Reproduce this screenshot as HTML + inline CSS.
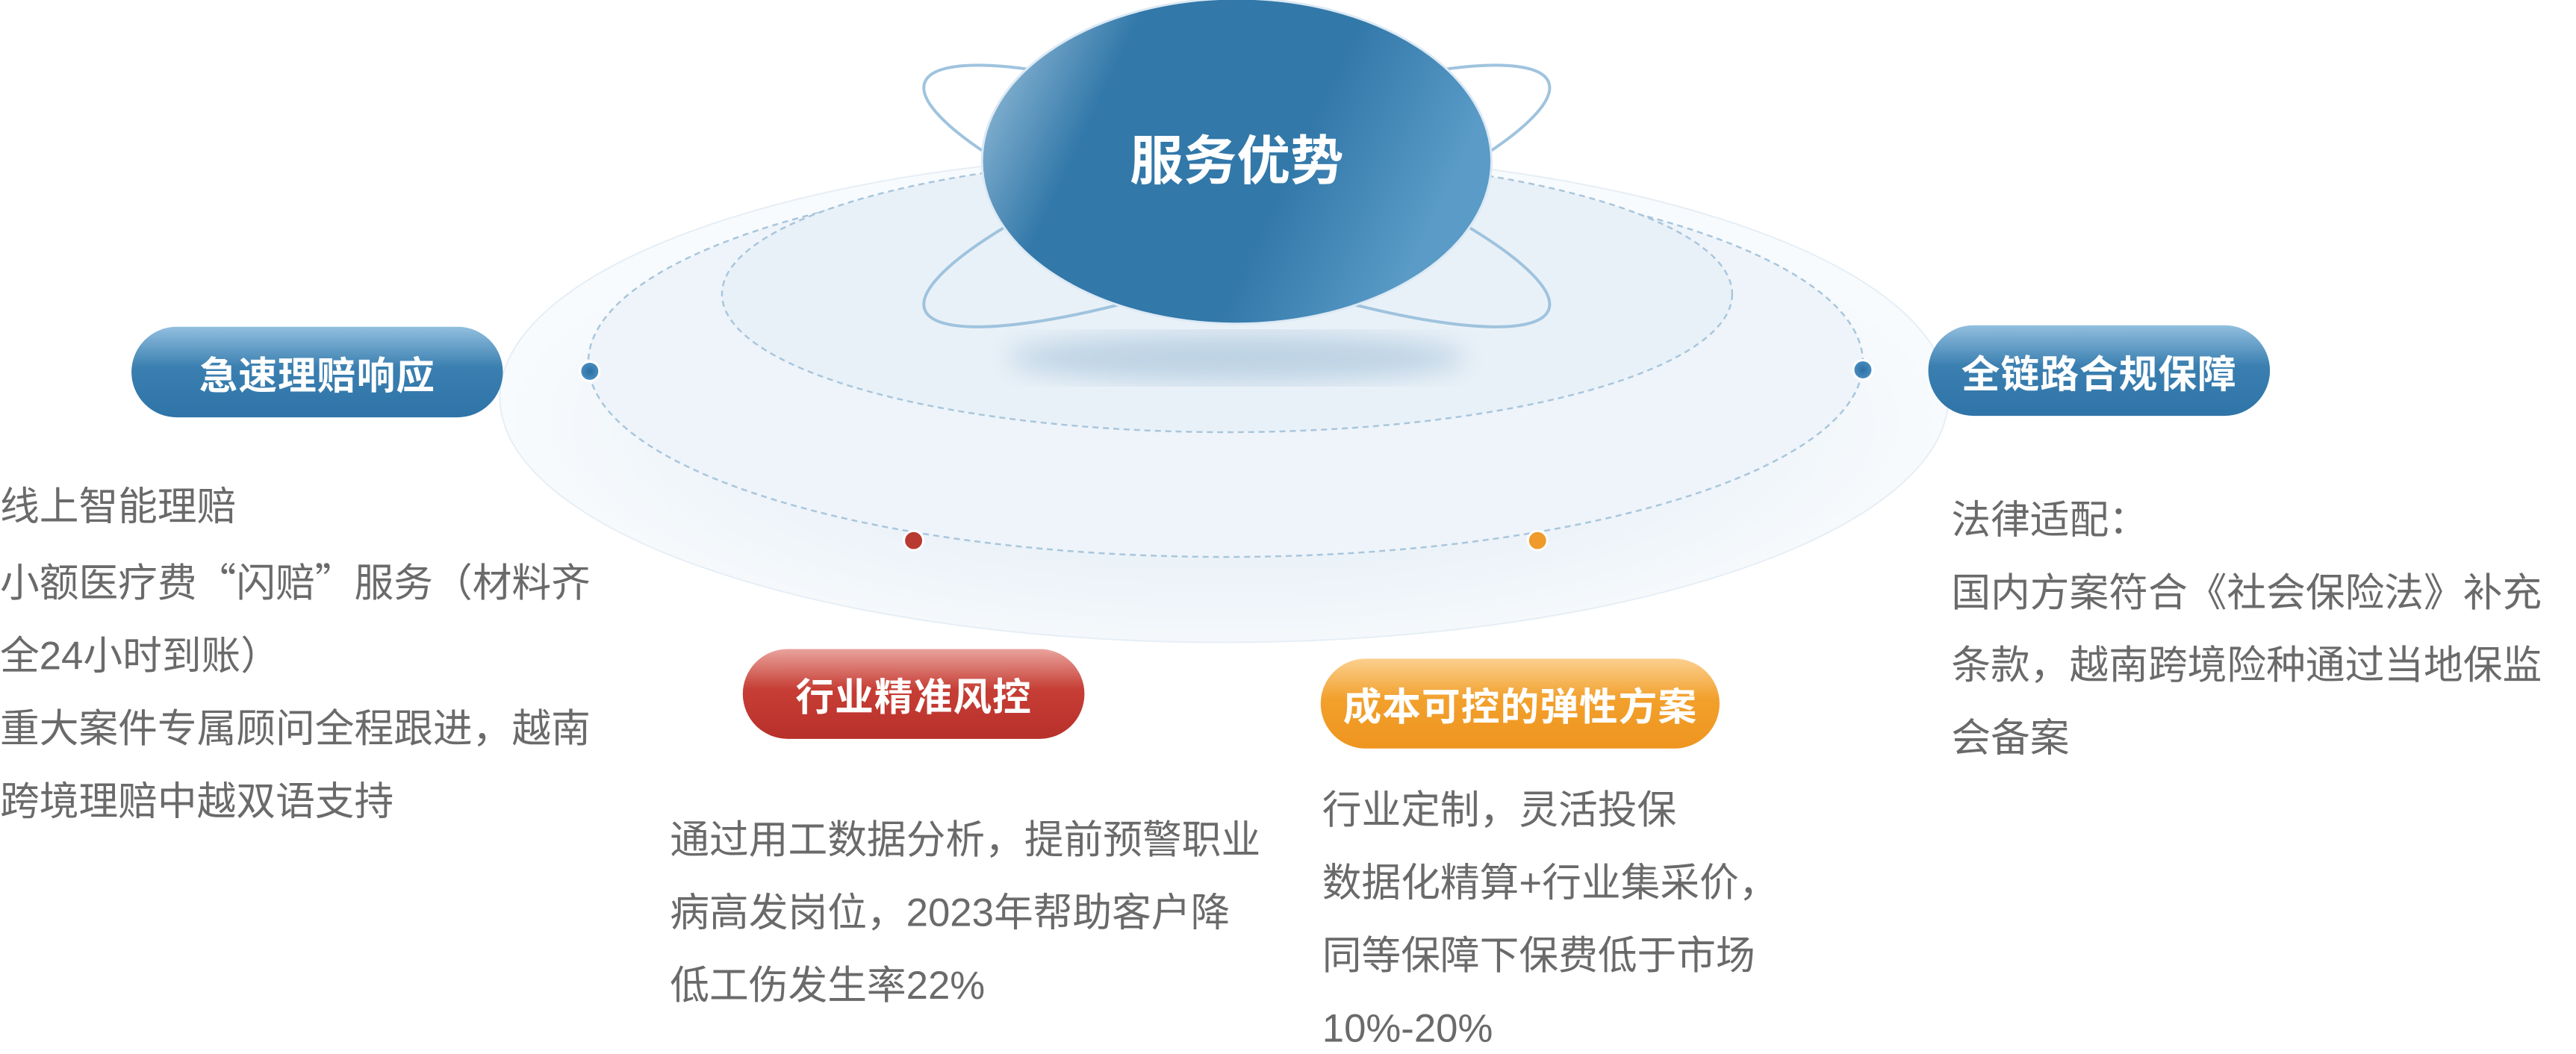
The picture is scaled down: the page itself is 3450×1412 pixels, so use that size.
<!DOCTYPE html>
<html><head><meta charset="utf-8"><style>
html,body{margin:0;padding:0;background:#fff;}
#o{position:relative;width:3450px;height:1412px;overflow:hidden;background:#fff;}
#c{position:absolute;left:0;top:0;width:3450px;height:1412px;transform:scale(0.9948);transform-origin:0 0;font-family:"Liberation Sans","Noto Sans CJK SC",sans-serif;}
.t{position:absolute;font-size:53px;line-height:98px;color:#6a6a6a;white-space:nowrap;}
.q{font-family:"Noto Sans CJK SC",sans-serif;}
.p{position:absolute;border-radius:70px;color:#fff;font-weight:bold;font-size:52px;display:flex;align-items:center;justify-content:center;letter-spacing:1px;}
</style></head><body><div id="o"><div id="c">
<svg width="3450" height="1412" style="position:absolute;left:0;top:0">
<defs>
<radialGradient id="disk" cx="0.5" cy="0.55" r="0.5">
<stop offset="0" stop-color="#e2edf6"/><stop offset="0.7" stop-color="#eef4f9"/><stop offset="1" stop-color="#f8fbfd"/></radialGradient>
<linearGradient id="ball" x1="0" y1="0" x2="1" y2="0.3">
<stop offset="0" stop-color="#a9cbe2"/><stop offset="0.3" stop-color="#3278a9"/><stop offset="0.7" stop-color="#3278a9"/><stop offset="1" stop-color="#5a9bc7"/></linearGradient>
<filter id="bl"><feGaussianBlur stdDeviation="18"/></filter>
<radialGradient id="db"><stop offset="0" stop-color="#2d6fa3"/><stop offset="1" stop-color="#4a8fc2"/></radialGradient>
</defs>
<ellipse cx="1648" cy="535" rx="975" ry="330" fill="url(#disk)" stroke="#e6eef5" stroke-width="2"/>
<ellipse cx="1650" cy="488" rx="858" ry="262" fill="#eef4fa" stroke="#a9c6dc" stroke-width="2.5" stroke-dasharray="8 6"/>
<ellipse cx="1652" cy="396" rx="680" ry="186" fill="#e9f1f8" stroke="#a9c6dc" stroke-width="2.5" stroke-dasharray="8 6"/>
<ellipse cx="1665" cy="482" rx="310" ry="32" fill="#bcd2e3" filter="url(#bl)"/>
<ellipse cx="1665" cy="264" rx="447" ry="93" fill="none" stroke="#9fc3de" stroke-width="4" transform="rotate(20 1665 264)"/>
<ellipse cx="1665" cy="264" rx="447" ry="93" fill="none" stroke="#9fc3de" stroke-width="4" transform="rotate(-20 1665 264)"/>
<ellipse cx="1665" cy="217" rx="343" ry="219" fill="url(#ball)" stroke="#dce9f4" stroke-width="3"/>
<text x="1665" y="242" font-size="72" font-weight="bold" fill="#fff" text-anchor="middle" font-family="Liberation Sans, Noto Sans CJK SC, sans-serif">服务优势</text>
<circle cx="794" cy="500" r="13" fill="url(#db)" stroke="#fff" stroke-width="3"/>
<circle cx="2508" cy="498" r="13" fill="url(#db)" stroke="#fff" stroke-width="3"/>
<circle cx="1230" cy="728" r="13" fill="#b83a30" stroke="#fff" stroke-width="3"/>
<circle cx="2070" cy="728" r="13" fill="#ef9a2a" stroke="#fff" stroke-width="3"/>
</svg>
<div class="p" style="left:177px;top:440px;width:500px;height:122px;background:linear-gradient(#92bfdf,#3a7fb0 45%,#2f74a8);">急速理赔响应</div>
<div class="p" style="left:2596px;top:438px;width:460px;height:122px;background:linear-gradient(#92bfdf,#3a7fb0 45%,#2f74a8);">全链路合规保障</div>
<div class="p" style="left:1000px;top:874px;width:460px;height:121px;background:linear-gradient(#e9a39c,#c63e35 45%,#b8302a);">行业精准风控</div>
<div class="p" style="left:1778px;top:887px;width:537px;height:121px;background:linear-gradient(#fbd08f,#f2a02c 45%,#ee951f);">成本可控的弹性方案</div>
<div class="t" style="left:0;top:634px">线上智能理赔<br>小额医疗费<span class="q">“</span>闪赔<span class="q">”</span>服务（材料齐<br>全24小时到账）<br>重大案件专属顾问全程跟进，越南<br>跨境理赔中越双语支持</div>
<div class="t" style="left:902px;top:1083px">通过用工数据分析，提前预警职业<br>病高发岗位，2023年帮助客户降<br>低工伤发生率22%</div>
<div class="t" style="left:1780px;top:1043px">行业定制，灵活投保<br>数据化精算+行业集采价，<br>同等保障下保费低于市场<br>10%-20%</div>
<div class="t" style="left:2627px;top:652px">法律适配：<br>国内方案符合《社会保险法》补充<br>条款，越南跨境险种通过当地保监<br>会备案</div>
</div></div></body></html>
